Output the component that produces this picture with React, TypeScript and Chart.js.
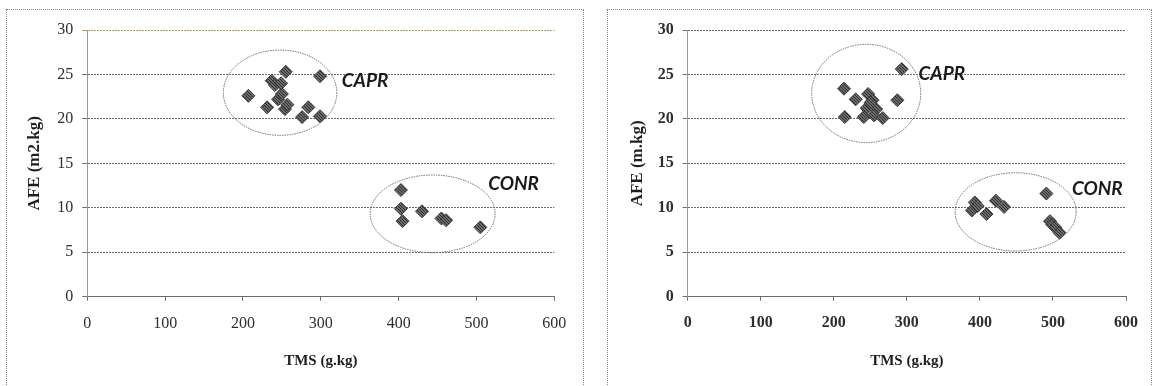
import React, { useEffect, useRef } from "react";
import { Chart, registerables } from "chart.js";

Chart.register(...registerables);

// ---- axis ticks ----
const xTickValues = [0, 100, 200, 300, 400, 500, 600];
const yTickValues = [0, 5, 10, 15, 20, 25, 30];
const groupNames = ["CAPR", "CONR"];

// ---- left panel data ----
const leftCaprX = [207, 231, 237, 241, 245, 250, 249, 255, 254, 257, 276, 284, 299, 299];
const leftCaprY = [22.6, 21.3, 24.3, 23.8, 22.2, 22.8, 24.0, 25.3, 21.1, 21.6, 20.2, 21.3, 20.3, 24.8];
const leftConrX = [403, 403, 405, 430, 455, 461, 505];
const leftConrY = [12.0, 9.9, 8.5, 9.6, 8.8, 8.6, 7.8];

// group ellipses (data units) and label anchors
const leftEllCx = [247.7, 443.7];
const leftEllCy = [22.95, 9.32];
const leftEllRx = [72.9, 80.3];
const leftEllRy = [4.8, 4.37];
const leftLabelX = [327, 515];
const leftLabelY = [24.3, 12.7];

// ---- right panel data ----
const rightCaprX = [214, 230, 215, 287, 293, 247, 253, 245, 258, 241, 255, 267, 250];
const rightCaprY = [23.4, 22.2, 20.2, 22.1, 25.6, 22.8, 22.1, 21.2, 21.1, 20.2, 20.4, 20.1, 21.8];
const rightConrX = [389, 393, 397, 409, 422, 433, 491, 496, 499, 503, 509];
const rightConrY = [9.7, 10.6, 10.2, 9.3, 10.8, 10.1, 11.6, 8.5, 8.1, 7.8, 7.2];

const rightEllCx = [244.4, 448.9];
const rightEllCy = [22.86, 9.54];
const rightEllRx = [74.6, 82.9];
const rightEllRy = [5.53, 4.4];
const rightLabelX = [316, 526];
const rightLabelY = [25.1, 12.1];

const SERIF = '"Liberation Serif", "Times New Roman", serif';
const LABEL_FONT = 'italic bold 19px Lato, "Open Sans", sans-serif';
const GRID = "#6c6c6c";

function makeHatch(): CanvasPattern | string {
  const c = document.createElement("canvas");
  c.width = 3;
  c.height = 3;
  const g = c.getContext("2d");
  if (!g) return "#555";
  g.fillStyle = "#8c8c8c";
  g.fillRect(0, 0, 3, 3);
  g.strokeStyle = "#262626";
  g.lineWidth = 1.1;
  g.beginPath();
  g.moveTo(0, 0);
  g.lineTo(3, 3);
  g.moveTo(-1, 2);
  g.lineTo(1, 4);
  g.moveTo(2, -1);
  g.lineTo(4, 1);
  g.stroke();
  return g.createPattern(c, "repeat") || "#555";
}

type PanelProps = {
  frameLeft: number;
  frameWidth: number;
  canvasWidth: number;
  canvasHeight: number;
  plotLeft: number;
  padRight: number;
  yTitle: string;
  yTitlePad: number;
  boldTicks: boolean;
  topGridColor: string;
  caprX: number[];
  caprY: number[];
  conrX: number[];
  conrY: number[];
  ellCx: number[];
  ellCy: number[];
  ellRx: number[];
  ellRy: number[];
  labelX: number[];
  labelY: number[];
};

function Panel(p: PanelProps) {
  const ref = useRef<HTMLCanvasElement | null>(null);

  useEffect(() => {
    if (!ref.current) return;
    const hatch = makeHatch();
    const groupsPlugin = {
      id: "groups",
      beforeDatasetsDraw(chart: any) {
        const { ctx, scales } = chart;
        const xs = scales.x;
        const ys = scales.y;
        ctx.save();
        ctx.strokeStyle = "#6a6a6a";
        ctx.lineWidth = 1;
        ctx.setLineDash([1.5, 1]);
        for (let i = 0; i < p.ellCx.length; i++) {
          const cx = xs.getPixelForValue(p.ellCx[i]);
          const cy = ys.getPixelForValue(p.ellCy[i]);
          const rx = xs.getPixelForValue(p.ellCx[i] + p.ellRx[i]) - cx;
          const ry = cy - ys.getPixelForValue(p.ellCy[i] + p.ellRy[i]);
          ctx.beginPath();
          ctx.ellipse(cx, cy, rx, ry, 0, 0, Math.PI * 2);
          ctx.stroke();
        }
        ctx.restore();
      },
      afterDatasetsDraw(chart: any) {
        const { ctx, scales } = chart;
        ctx.save();
        ctx.font = LABEL_FONT;
        ctx.fillStyle = "#1a1a1a";
        ctx.textAlign = "left";
        ctx.textBaseline = "middle";
        for (let i = 0; i < groupNames.length; i++) {
          ctx.fillText(
            groupNames[i],
            scales.x.getPixelForValue(p.labelX[i]),
            scales.y.getPixelForValue(p.labelY[i])
          );
        }
        ctx.restore();
      },
    };

    const pointStyle = {
      pointStyle: "rectRot" as const,
      pointRadius: 6.5,
      pointBackgroundColor: hatch as any,
      pointBorderColor: "#3a3a3a",
      pointBorderWidth: 1,
      showLine: false,
    };

    const tickFont = { family: SERIF, size: 16, weight: p.boldTicks ? "bold" : "normal" } as any;
    const plotBottom = 286.7;

    const chart = new Chart(ref.current, {
      type: "scatter",
      data: {
        datasets: [
          { label: groupNames[0], data: p.caprX.map((x, i) => ({ x, y: p.caprY[i] })), ...pointStyle },
          { label: groupNames[1], data: p.conrX.map((x, i) => ({ x, y: p.conrY[i] })), ...pointStyle },
        ],
      },
      options: {
        animation: false,
        responsive: false,
        events: [],
        layout: { padding: { left: 0, right: p.padRight, top: 20, bottom: 0 } },
        plugins: { legend: { display: false }, tooltip: { enabled: false } },
        scales: {
          x: {
            type: "linear",
            min: 0,
            max: 600,
            afterBuildTicks: (s: any) => {
              s.ticks = xTickValues.map((v) => ({ value: v }));
            },
            afterFit: (s: any) => {
              s.height = p.canvasHeight - plotBottom;
            },
            grid: {
              drawOnChartArea: false,
              drawTicks: true,
              tickLength: 4,
              color: GRID,
            },
            border: { display: true, color: GRID, width: 1, dash: [2, 1] },
            ticks: { font: tickFont, color: "#2e2e2e", padding: 13, maxRotation: 0 },
            title: {
              display: true,
              text: "TMS (g.kg)",
              font: { family: SERIF, size: 15, weight: "bold" },
              color: "#1e1e1e",
              padding: { top: 0, bottom: 17 },
            },
          },
          y: {
            type: "linear",
            min: 0,
            max: 30,
            afterBuildTicks: (s: any) => {
              s.ticks = yTickValues.map((v) => ({ value: v }));
            },
            afterFit: (s: any) => {
              s.width = p.plotLeft;
            },
            grid: {
              drawTicks: true,
              tickLength: 5,
              color: (c: any) => (c.tick && c.tick.value === 30 ? p.topGridColor : GRID),
              lineWidth: 1,
            },
            border: { display: true, color: "#9a9a9a", width: 1, dash: [2, 1] },
            ticks: { font: tickFont, color: "#2e2e2e", padding: 9 },
            title: {
              display: true,
              text: p.yTitle,
              font: { family: SERIF, size: 17, weight: "bold" },
              color: "#1e1e1e",
              padding: { top: p.yTitlePad, bottom: 0 },
            },
          },
        },
      },
      plugins: [groupsPlugin],
    } as any);

    return () => chart.destroy();
  }, []);

  return (
    <div
      style={{
        position: "absolute",
        left: p.frameLeft,
        top: 9,
        width: p.frameWidth,
        height: 420,
        border: "1px dotted #8a8a8a",
        boxSizing: "border-box",
      }}
    >
      <canvas
        ref={ref}
        width={p.canvasWidth}
        height={p.canvasHeight}
        style={{ position: "absolute", left: 0, top: 0, width: p.canvasWidth, height: p.canvasHeight }}
      />
    </div>
  );
}

export default function App() {
  return (
    <div
      style={{
        position: "fixed",
        left: 0,
        top: 0,
        width: 1157,
        height: 386,
        overflow: "hidden",
        background: "#fff",
      }}
    >
      <Panel
        frameLeft={6}
        frameWidth={578}
        canvasWidth={576}
        canvasHeight={377}
        plotLeft={80.3}
        padRight={28.7}
        yTitle="AFE (m2.kg)"
        yTitlePad={17.5}
        boldTicks={false}
        topGridColor="#a99c84"
        caprX={leftCaprX}
        caprY={leftCaprY}
        conrX={leftConrX}
        conrY={leftConrY}
        ellCx={leftEllCx}
        ellCy={leftEllCy}
        ellRx={leftEllRx}
        ellRy={leftEllRy}
        labelX={leftLabelX}
        labelY={leftLabelY}
      />
      <Panel
        frameLeft={607}
        frameWidth={545}
        canvasWidth={543}
        canvasHeight={377}
        plotLeft={79.7}
        padRight={16.7}
        yTitle="AFE (m.kg)"
        yTitlePad={19.5}
        boldTicks={true}
        topGridColor={GRID}
        caprX={rightCaprX}
        caprY={rightCaprY}
        conrX={rightConrX}
        conrY={rightConrY}
        ellCx={rightEllCx}
        ellCy={rightEllCy}
        ellRx={rightEllRx}
        ellRy={rightEllRy}
        labelX={rightLabelX}
        labelY={rightLabelY}
      />
    </div>
  );
}
